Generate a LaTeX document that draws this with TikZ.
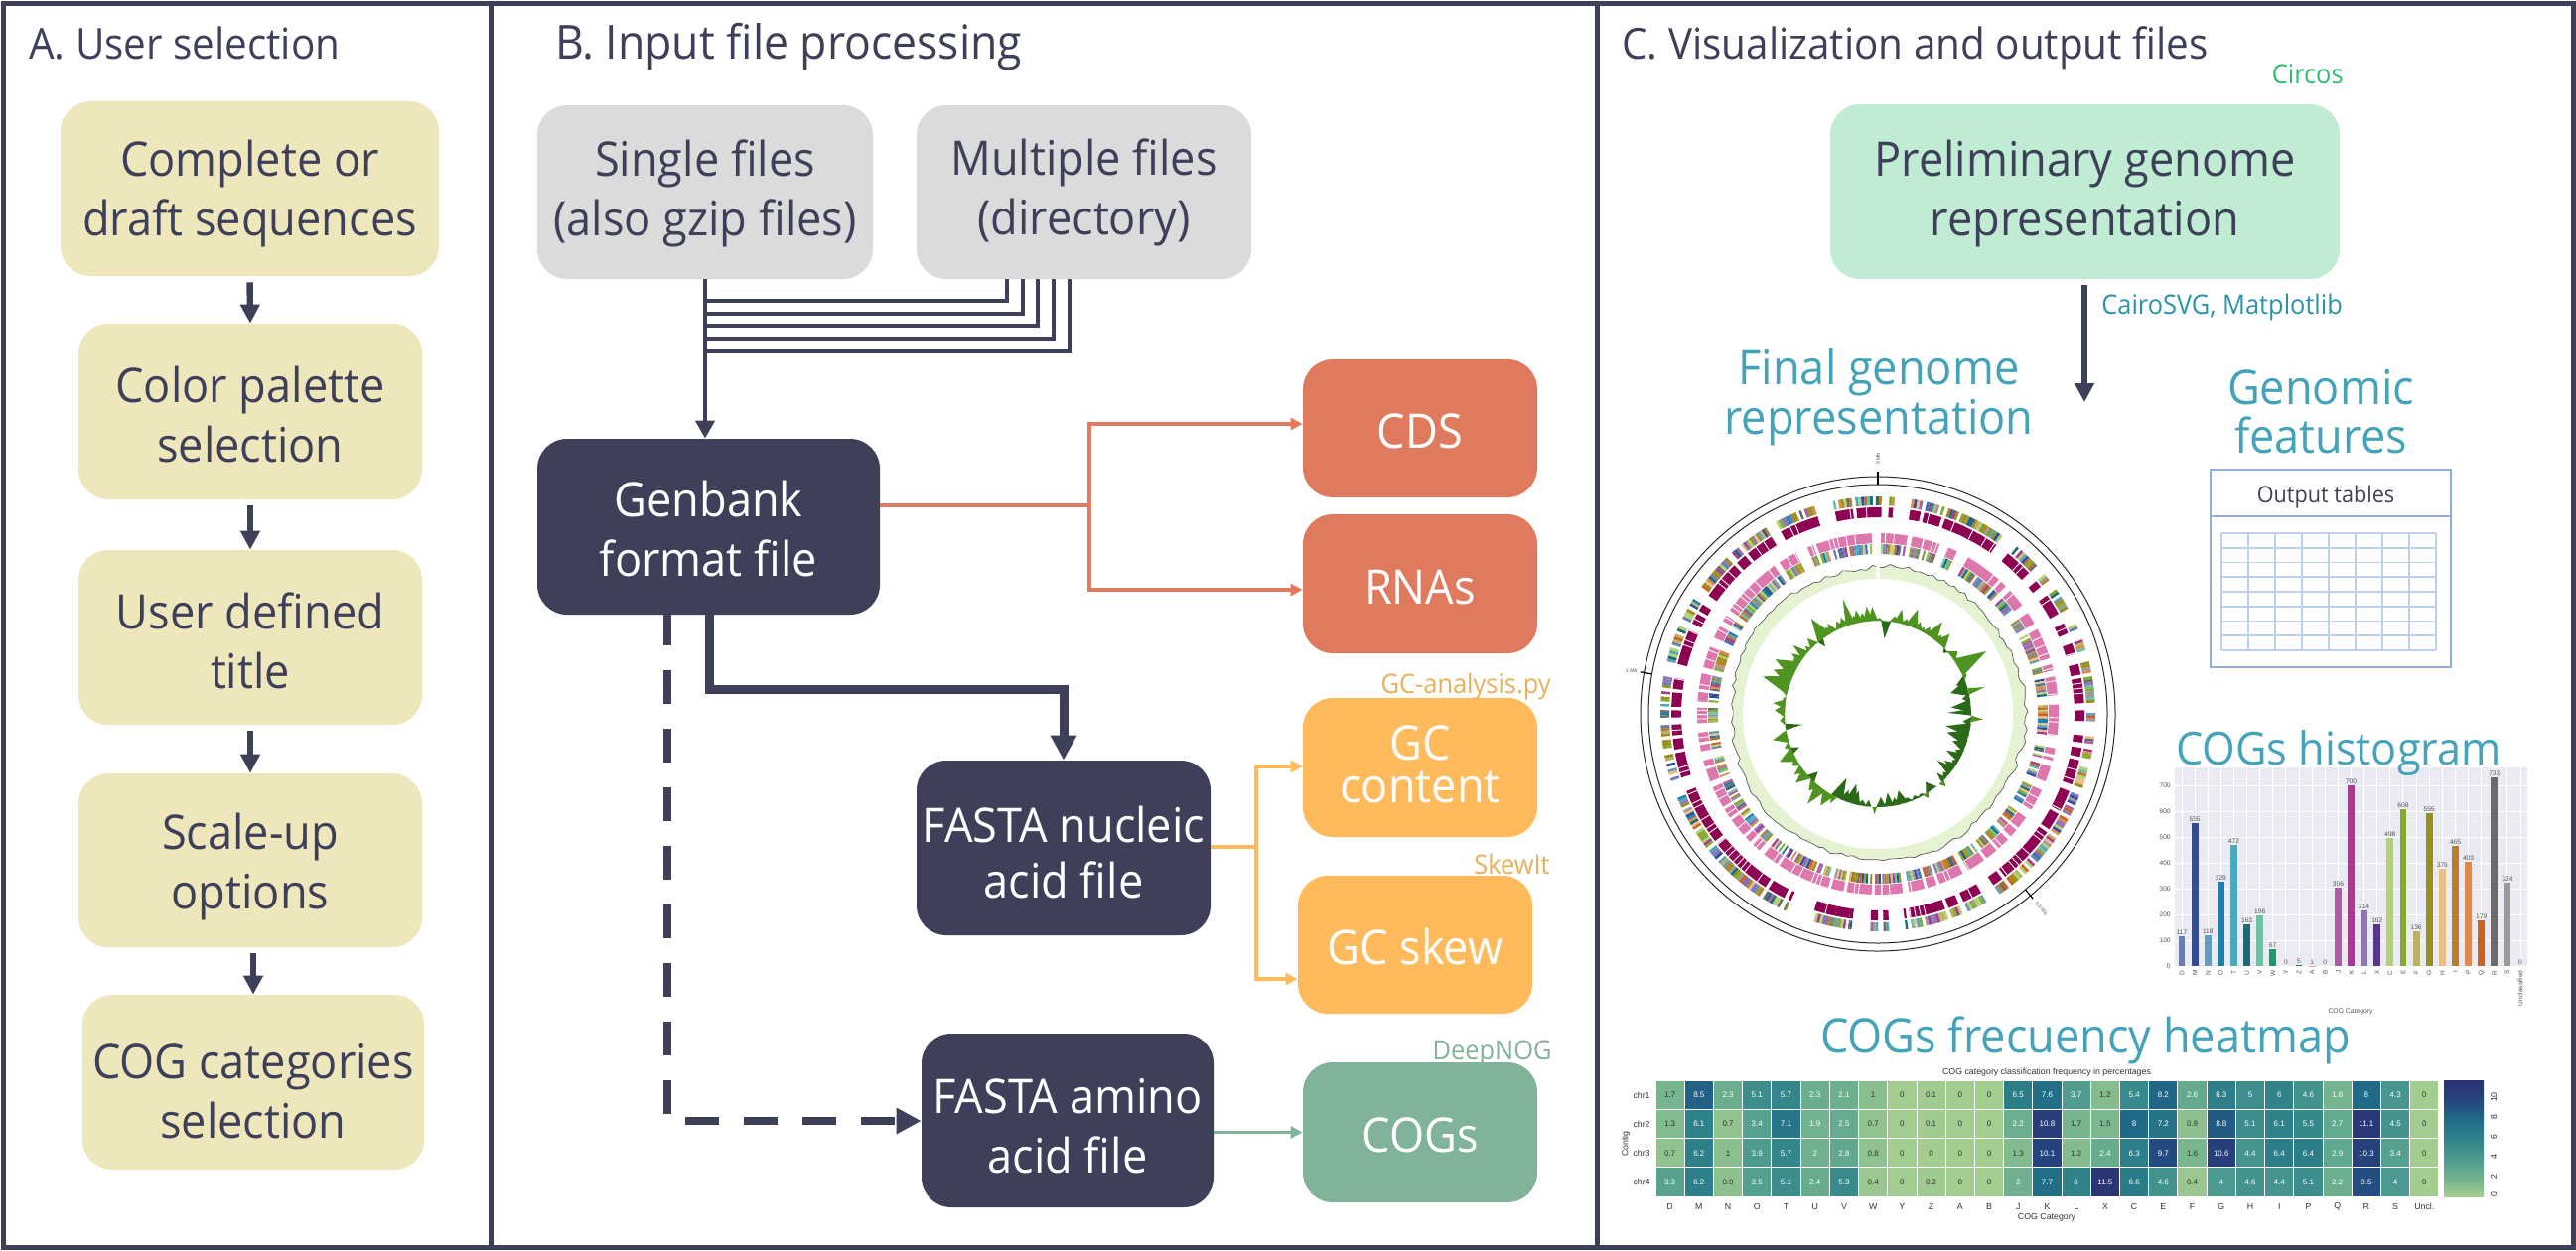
\documentclass[tikz,border=0pt]{standalone}
\usepackage{fontspec}
\setmainfont[FakeStretch=0.94]{Open Sans}
\newfontfamily\lib{Liberation Sans}
\usetikzlibrary{arrows.meta}
\definecolor{navy}{HTML}{3E4059}
\definecolor{yel}{HTML}{EFE7BC}
\definecolor{gry}{HTML}{DBDBDB}
\definecolor{cor}{HTML}{E07A5F}
\definecolor{amb}{HTML}{FFBA5C}
\definecolor{ambt}{HTML}{E8B05A}
\definecolor{sag}{HTML}{81B29A}
\definecolor{mint}{HTML}{BFECD3}
\definecolor{teal}{HTML}{45A3B9}
\definecolor{cairo}{HTML}{2A93A8}
\definecolor{circ}{HTML}{2EBD6E}
\definecolor{tbl}{HTML}{8FAEDF}
\definecolor{tbll}{HTML}{BFD0EE}
\definecolor{mag}{HTML}{8E0152}
\definecolor{pnk}{HTML}{DE77AE}
\definecolor{gcp}{HTML}{E6F3D3}
\definecolor{skl}{HTML}{4F9320}
\definecolor{skd}{HTML}{2A6A18}
\definecolor{hc0}{HTML}{A3CD8F}
\definecolor{hc1}{HTML}{6FB18E}
\definecolor{hc2}{HTML}{4B9A8F}
\definecolor{hc3}{HTML}{2F8389}
\definecolor{hc4}{HTML}{1F6A87}
\definecolor{hc5}{HTML}{25457F}
\definecolor{hc6}{HTML}{2C3070}
\definecolor{hdark}{HTML}{333333}
\definecolor{cD}{HTML}{6B7BB5}\definecolor{cM}{HTML}{2F4C9E}\definecolor{cN}{HTML}{6A9BB9}
\definecolor{cO}{HTML}{1F80B0}\definecolor{cT}{HTML}{4BA9BB}\definecolor{cU}{HTML}{1B6B76}
\definecolor{cV}{HTML}{6FC0A4}\definecolor{cW}{HTML}{1B9A6C}\definecolor{cZ}{HTML}{1B7A3C}
\definecolor{cA}{HTML}{F0A0A0}\definecolor{cJ}{HTML}{AE5CA4}\definecolor{cK}{HTML}{A83B90}
\definecolor{cL}{HTML}{8F76B5}\definecolor{cX}{HTML}{55368E}\definecolor{cC}{HTML}{B3D173}
\definecolor{cE}{HTML}{84AB2E}\definecolor{cF}{HTML}{B8B365}\definecolor{cG}{HTML}{9A8E1E}
\definecolor{cH}{HTML}{EBBF88}\definecolor{cI}{HTML}{B67F2B}\definecolor{cP}{HTML}{DC8A50}
\definecolor{cQ}{HTML}{C9641E}\definecolor{cR}{HTML}{6B6B6B}\definecolor{cS}{HTML}{9A9A9A}
\definecolor{axbg}{HTML}{EAEAF2}
\definecolor{axtx}{HTML}{555555}
\tikzset{
  bigtext/.style={font=\fontsize{24}{30}\selectfont,align=center},
  boxbase/.style={rounded corners=15pt,inner sep=0pt,bigtext},
  yelbox/.style={boxbase,fill=yel,text=navy},
  grybox/.style={boxbase,fill=gry,text=navy},
  navbox/.style={boxbase,fill=navy,text=white},
  corbox/.style={boxbase,fill=cor,text=white},
  ambbox/.style={boxbase,fill=amb,text=white},
  sagbox/.style={boxbase,fill=sag,text=white},
  mntbox/.style={boxbase,fill=mint,text=navy},
  heading/.style={font=\fontsize{21.5}{26}\selectfont,text=navy,anchor=base west,inner sep=0pt},
  teal title/.style={font=\fontsize{24}{25}\selectfont,text=teal,align=center,inner sep=0pt},
  tool/.style={font=\fontsize{13.5}{16}\selectfont,inner sep=0pt},
  flow/.style={draw=navy,line width=3.2pt,-{Triangle[length=9.5pt,width=9.5pt]}},
  stack/.style={draw=navy,line width=2.2pt},
  thin arrow/.style={line width=2.2pt,-{Triangle[length=6pt,width=6pt]}},
  tiny/.style={font=\lib\fontsize{3.3}{3.8}\selectfont,text=axtx,inner sep=0pt},
  heat/.style={font=\lib\fontsize{4}{5}\selectfont,inner sep=0pt},
  heatlab/.style={font=\lib\fontsize{4.4}{5}\selectfont,text=hdark,inner sep=0pt},
}
\newcommand\st[1]{\rule{0pt}{#1pt}}
\newcommand\bx[7]{%
  \pgfmathsetmacro\cxx{(#3+#5)/2}\pgfmathsetmacro\cyy{(#4+#6)/2}%
  \node[#2,minimum width={(#5-#3)*0.5pt},minimum height={(#6-#4)*0.5pt}] (#1) at (\cxx,\cyy) {#7};}
\newcommand\solidband[4]{%
  \foreach \a/\b in #1 {%
    \fill[#4] plot[domain=\a:\b,samples=4]({\x-90}:#2) -- plot[domain=\b:\a,samples=4]({\x-90}:#3) -- cycle;
    \pgfmathtruncatemacro\n{(\b-\a)/1.4}%
    \ifnum\n>0
      \foreach \k in {1,...,\n}{%
        \pgfmathrandominteger\rr{0}{9}%
        \ifnum\rr<4
          \draw[white,line width=.45pt] ({\a+\k*1.4-90}:#2) -- ({\a+\k*1.4-90}:#3);
        \fi}%
    \fi}}
\newcommand\colband[3]{%
  \foreach \a/\b in #1 {%
    \pgfmathtruncatemacro\n{(\b-\a)/0.8+1}%
    \pgfmathsetmacro\s{(\b-\a)/\n}%
    \foreach \k in {1,...,\n}{%
      \pgfmathrandomitem\cc{pal}%
      \fill[\cc] ({\a+(\k-1)*\s-90}:#2) -- ({\a+\k*\s-90}:#2) -- ({\a+\k*\s-90}:#3) -- ({\a+(\k-1)*\s-90}:#3) -- cycle;}}}
\pgfmathdeclarerandomlist{pal}{{cD}{cM}{cN}{cO}{cT}{cU}{cV}{cC}{cE}{cF}{cG}{cG}{cH}{cI}{cP}{cQ}{cR}{cS}{cK}{cJ}{cL}{cC}{cE}{white}{white}}
\newcommand\outerlist{-12/-7,-6/1,3/4.5,9/12,13/18,19/35,39/47,50/52,55/61,64/67,70/73,76/79,80/87,89/92,96/98,99.5/102,103/110,112/118,119/124,125/130,130/142,143/146,150/154,154/155.5,157/160,161/171,172/172.6,177/178.5,180/182,187/188,188/192,192/195,195/198,205/205.8,207/212,213/216,216/225,225/228,228/231,232/240,240/248,252/259,260/263,264/267,269/271,272/276,277/280,284/294,296/299,300/302,305/308,308/316,317/320,321/325,325/329,332/335,335/343}
\newcommand\innerlist{1/9.5,11/14.5,15/20,23/26,30/42,43/45,47/53,56/60,62/72,74/76,78/84,87/97,101/103,104/105,107/112,115/122,125/129,130/133,134/138,139/143,144/150,152/160,161/164,165/170,172/178.5,179/181,182/190,191/195,196/209,209/213,214/219,221/224,225/227,228/234,235/238,239/243,243/246,248/252,253/255,258/260,261/264,267/272,274/277,278/283,285/292,295/299,301/303,305/313,313/325,327/333,337/339,340/358}
\begin{document}
\begin{tikzpicture}[x=0.5pt,y=-0.5pt]
\useasboundingbox (0,0) rectangle (2594,1259);
\pgfmathsetseed{11}
% frame
\draw[navy,line width=2.5pt] (3,3) rectangle (2591,1256);
\draw[navy,line width=2.5pt] (494,3) -- (494,1256);
\draw[navy,line width=2.5pt] (1608,3) -- (1608,1256);
% headings
\node[heading] (ha) at (29,59) {A. User selection};
\node[heading,font=\fontsize{23.7}{28}\selectfont] (hb) at (559,59) {B. Input file processing};
\node[heading] (hc) at (1633,59) {C. Visualization and output files};
% panel A
\bx{a1}{yelbox}{61}{102}{442}{278}{\st{23.2}Complete or\\draft sequences}
\bx{a2}{yelbox}{79}{326}{425}{503}{\st{21.5}Color palette\\selection}
\bx{a3}{yelbox}{79}{554}{425}{730}{\st{21.5}User defined\\title}
\bx{a4}{yelbox}{79}{779}{425}{954}{\st{24.8}Scale-up\\options}
\bx{a5}{yelbox}{83}{1002}{427}{1178}{\st{26.5}COG categories\\selection}
\draw[flow,shorten <=3pt] (a1.south) -- (a2.north);
\draw[flow,shorten <=3pt] (a2.south) -- (a3.north);
\draw[flow,shorten <=3pt] (a3.south) -- (a4.north);
\draw[flow,shorten <=3pt] (a4.south -| a5.north) -- (a5.north);
% panel B
\bx{single}{grybox}{541}{106}{879}{281}{\st{19.9}Single files\\(also gzip files)}
\bx{multi}{grybox}{923}{106}{1260}{281}{\st{19.2}Multiple files\\(directory)}
\bx{gb}{navbox}{541}{442}{886}{619}{\st{19.9}Genbank\\format file}
\bx{cds}{corbox}{1312}{362}{1548}{501}{\st{20.5}CDS}
\bx{rnas}{corbox}{1312}{518}{1548}{658}{\st{20.5}RNAs}
\bx{gcc}{ambbox,font=\fontsize{24}{21.5}\selectfont}{1312}{703}{1548}{843}{GC\\content\rule[-3pt]{0pt}{0pt}}
\bx{gcs}{ambbox}{1307}{882}{1543}{1021}{\st{20.5}GC skew}
\bx{cogs}{sagbox}{1312}{1070}{1548}{1211}{\st{20.5}COGs}
\bx{fn}{navbox,font=\fontsize{24}{28}\selectfont}{923}{766}{1219}{942}{\st{22.3}FASTA nucleic\\acid file}
\bx{fa}{navbox}{928}{1041}{1222}{1216}{\st{23.2}FASTA amino\\acid file}
% stack of connectors
\foreach \i/\xx/\yy in {1/1014/303,2/1030/316,3/1045/328,4/1061/341,5/1077/354}{
  \coordinate (tk\i) at (\xx,0);
  \coordinate (jn\i) at (710,\yy);
  \draw[stack] (multi.south -| tk\i) |- (jn\i);
}
\draw[draw=navy,line width=2.2pt,-{Triangle[length=9pt,width=9.5pt]}] (single.south) -- (gb.north -| single.south);
% genbank to CDS / RNAs
\coordinate (ob) at (1097,509);
\coordinate (oc) at (1097,427);
\coordinate (or) at (1097,594);
\draw[cor,line width=2.3pt] (gb.east |- ob) -- (ob);
\draw[cor,thin arrow] (ob) -- (oc) -- (cds.west |- oc);
\draw[cor,thin arrow] (ob) -- (or) -- (rnas.west |- or);
% genbank to FASTA nucleic
\coordinate (t1) at (714,619);
\coordinate (t2) at (714,694.5);
\coordinate (t3) at (1071,694.5);
\draw[navy,line width=4.5pt,-{Triangle[length=12.5pt,width=12.5pt]}] (t1) -- (t2) -- (t3) -- (t3 |- fn.north);
% dashed to FASTA amino
\coordinate (d1) at (672,619);
\coordinate (d2) at (672,1129);
\draw[navy,line width=4.3pt,dash pattern=on 17pt off 12.5pt,dash phase=1.5pt,-{Triangle[length=12.5pt,width=12.5pt]}] (d1) -- (d2) -- (d2 -| fa.west);
% FASTA nucleic to GC
\coordinate (y0) at (1219,853);
\coordinate (y1) at (1265,853);
\coordinate (y2) at (1265,772);
\coordinate (y3) at (1265,986);
\draw[amb,line width=1.9pt] (y0) -- (y1);
\draw[amb,thin arrow,line width=1.9pt] (y1) -- (y2) -- (gcc.west |- y2);
\draw[amb,thin arrow,line width=1.9pt] (y1) -- (y3) -- (gcs.west |- y3);
% FASTA amino to COGs
\draw[sag,thin arrow,line width=1.9pt] (fa.east |- cogs.west) -- (cogs.west);
% tool labels
\node[tool,text=ambt,anchor=base east] (tg) at (1562,698) {GC-analysis.py};
\node[tool,text=ambt,anchor=base east] (ts) at (1561,880) {SkewIt};
\node[tool,text=sag,anchor=base east] (td) at (1563,1067) {DeepNOG};
\node[tool,text=circ,anchor=base east] (tc) at (2360,84) {Circos};
\node[tool,text=cairo,anchor=base west] (tm) at (2116,316) {CairoSVG, Matplotlib};
% panel C
\bx{prelim}{mntbox}{1843}{105}{2356}{281}{\st{20.7}Preliminary genome\\representation}
\coordinate (px) at (2099,405);
\draw[flow,shorten <=3pt] (prelim.south -| px) -- (px);
\node[teal title,anchor=base] (fg1) at (1892,387) {Final genome};
\node[teal title,anchor=base] (fg2) at (1892,437) {representation};
\node[teal title,anchor=base] (gf1) at (2337,407) {Genomic};
\node[teal title,anchor=base] (gf2) at (2337,456) {features};
\node[teal title,anchor=base] (hm) at (2100,1060) {COGs frecuency heatmap};
% table
\draw[tbl,line width=1.3pt] (2226,473) rectangle (2468,672);
\draw[tbl,line width=1.3pt] (2226,520) -- (2468,520);
\node[font=\fontsize{11.5}{15}\selectfont,text=navy,anchor=base,inner sep=0pt] (ot) at (2342,506) {Output tables};
\foreach \i in {0,...,8}{
  \draw[tbll,line width=.8pt] ({2237+\i*27},537) -- ({2237+\i*27},655);
  \draw[tbll,line width=.8pt] (2237,{537+\i*14.75}) -- (2453,{537+\i*14.75});
}
% circular genome
\begin{scope}[shift={(1891,719)}]
  \draw[black!85,line width=.5pt] (0,0) circle[radius=239];
  \draw[black!85,line width=.5pt] (0,0) circle[radius=231];
  \draw[black,line width=.8pt] (-90:231) -- (-90:244);
  \draw[black,line width=.6pt] (190:231) -- (190:243);
  \draw[black,line width=.6pt] (50:231) -- (50:243);
  \node[tiny,rotate=90,font=\lib\fontsize{2.6}{3}\selectfont] (l0) at (-90:257) {0 Mb};
  \node[tiny,font=\lib\fontsize{2.6}{3}\selectfont] (l1) at (190:252) {1 Mb};
  \node[tiny,rotate=-50,font=\lib\fontsize{2.6}{3}\selectfont] (l2) at (50:256) {0.5 Mb};
  \colband{\outerlist}{210}{219}
  \solidband{\outerlist}{198}{208}{mag}
  \solidband{\innerlist}{172}{182}{pnk}
  \colband{\innerlist}{161}{171}
  % GC content
  \filldraw[fill=gcp,draw=black!65,line width=.35pt] plot[domain=0:358,samples=150]({\x-90}:{148+1.6*sin(5*\x)+2.4*(2*rnd-1)}) -- cycle;
  \fill[white] (0,0) circle[radius=136];
  \draw[white,line width=1.6pt] (-90:135) -- (-90:155);
  % GC skew
  \foreach \t/\h/\w in {1/3/2,5/-18/3,10/6/3,13/14/3,17/6/3,21/19/4,25/8/3,28/5/2,31/8/3,35/19/4,39/8/3,42/14/4,47/-4/2,52/8/4,56/6/3,60/32/6,66/4/3,70/-10/4,74/-18/5,76/17/2,80/-8/3,85/-20/4,89/-24/2,93/12/2,95/-8/3,98/-16/2,100/-25/4,105/-22/5,110/-14/4,115/-8/3,118/-16/3,122/-6/3,125/-12/3,128/-18/3,132/-6/3,135/-10/2,137/6/2,145/-10/4,149/5/2,152/-3/3,156/-4/3,161/-5/3,165/-14/4,169/-8/3,173/-14/3,178/-10/3,182/7/1.5,186/-7/2,190/-6/3,194/-14/3,197/-20/4,201/-12/3,206/-22/4,208/8/2,212/15/4,218/21/4,222/10/4,226/-10/3,230/14/4,234/10/3,239/7/3,244/16/5,247/-8/2,250/6/3,256/15/4,262/-17/2,266/5/3,272/10/4,276/12/3,279/3/2,283/4/2,288/28/6,293/20/6,298/23/6,303/8/3,305/12/3,309/16/3,313/6/2,317/10/3,322/-8/2,325/23/5,329/8/3,331/10/3,336/8/3,339/10/3,343/27/3,346/8/3,348/13/3,351/9/3,354/15/3,357/14/3,359/3/2}{
    \ifdim\h pt<0pt \def\sk{skd}\else\def\sk{skl}\fi
    \fill[\sk] ({\t-\w-90}:94) -- ({\t-90}:{94+\h}) -- ({\t+\w-90}:94) -- cycle;
  }
\end{scope}
% histogram
\fill[axbg] (2190,773) rectangle (2545,973);
\foreach \v in {0,100,...,700}{
  \pgfmathsetmacro\yy{973-\v*0.2595}
  \draw[white,line width=.5pt] (2190,\yy) -- (2545,\yy);
  \node[tiny,anchor=east] (yt\v) at (2186,\yy) {\v};
}
\foreach \lab/\v/\col [count=\i from 0] in {D/117/cD,M/555/cM,N/118/cN,O/329/cO,T/472/cT,U/163/cU,V/196/cV,W/67/cW,Y/0/white,Z/5/cZ,A/1/cA,B/0/white,J/306/cJ,K/700/cK,L/214/cL,X/162/cX,C/498/cC,E/608/cE,F/136/cF,G/595/cG,H/379/cH,I/465/cI,P/403/cP,Q/179/cQ,R/733/cR,S/324/cS,Unclassified/0/white}{
  \pgfmathsetmacro\xx{2197+\i*13.115}
  \pgfmathsetmacro\yy{973-\v*0.2595}
  \draw[white,line width=.5pt] (\xx,773) -- (\xx,973);
  \ifnum\v>0 \fill[\col] ({\xx-3.4},\yy) rectangle ({\xx+3.4},973);\fi
  \node[tiny,anchor=base] (bv\i) at (\xx,{\yy-1.5}) {\v};
  \node[tiny,rotate=90,anchor=east] (bl\i) at (\xx,977) {\lab};
}
\node[tiny,font=\lib\fontsize{3.4}{4}\selectfont] (hx) at (2367,1019) {COG Category};
\node[teal title,anchor=base,font=\fontsize{23}{25}\selectfont] (hi) at (2355,770) {COGs histogram};
% heatmap
\foreach \r/\vals/\nm in {0/{1.7,8.5,2.3,5.1,5.7,2.3,2.1,1,0,0.1,0,0,6.5,7.6,3.7,1.2,5.4,8.2,2.6,6.3,5,6,4.6,1.8,8,4.3,0}/chr1,
  1/{1.3,6.1,0.7,3.4,7.1,1.9,2.5,0.7,0,0.1,0,0,2.2,10.8,1.7,1.5,8,7.2,0.9,8.8,5.1,6.1,5.5,2.7,11.1,4.5,0}/chr2,
  2/{0.7,6.2,1,3.9,5.7,2,2.8,0.8,0,0,0,0,1.3,10.1,1.2,2.4,6.3,9.7,1.6,10.6,4.4,6.4,6.4,2.9,10.3,3.4,0}/chr3,
  3/{3.3,6.2,0.9,3.5,5.1,2.4,5.3,0.4,0,0.2,0,0,2,7.7,6,11.5,6.6,4.6,0.4,4,4.6,4.4,5.1,2.2,9.5,4,0}/chr4}{
  \foreach \v [count=\c from 0] in \vals {
    \pgfmathtruncatemacro\sg{int(\v/2)}
    \pgfmathtruncatemacro\nx{\sg+1}
    \pgfmathsetmacro\pct{(\v-2*\sg)*50}
    \colorlet{hh}{hc\nx!\pct!hc\sg}
    \pgfmathsetmacro\hx{1667+\c*29.22}
    \pgfmathsetmacro\hy{1088.3+\r*29.2}
    \filldraw[fill=hh,draw=white,line width=.5pt] (\hx,\hy) rectangle ({\hx+29.22},{\hy+29.2});
    \ifdim\v pt>1.75pt \def\tc{white}\else\def\tc{hdark}\fi
    \node[heat,text=\tc] (hv\r c\c) at ({\hx+14.6},{\hy+14.6}) {\v};
  }
  \node[heatlab,anchor=east] (rw\r) at (1662,{1088.3+\r*29.2+14.6}) {\nm};
}
\foreach \lab [count=\c from 0] in {D,M,N,O,T,U,V,W,Y,Z,A,B,J,K,L,X,C,E,F,G,H,I,P,Q,R,S,Uncl.}{
  \node[heatlab] (cl\c) at ({1681.6+\c*29.22},1215) {\lab};
}
\node[heatlab] (hxl) at (2061,1226) {COG Category};
\node[heatlab,rotate=90] (hyl) at (1637,1152) {Contig};
\node[heatlab] (htl) at (2061,1080) {COG category classification frequency in percentages};
% colour bar
\foreach \i/\j in {0/1,1/2,2/3,3/4,4/5,5/6}{
  \pgfmathsetmacro\ya{1205-\i*19.5}
  \pgfmathsetmacro\yb{1205-\j*19.5}
  \shade[bottom color=hc\i,top color=hc\j] (2461,\ya) rectangle (2501,\yb);
}
\foreach \v/\yy in {0/1203,2/1185,4/1165,6/1145,8/1125,10/1105}{
  \node[heatlab,rotate=90] (cb\v) at (2511,\yy) {\v};
}
\end{tikzpicture}
\end{document}
